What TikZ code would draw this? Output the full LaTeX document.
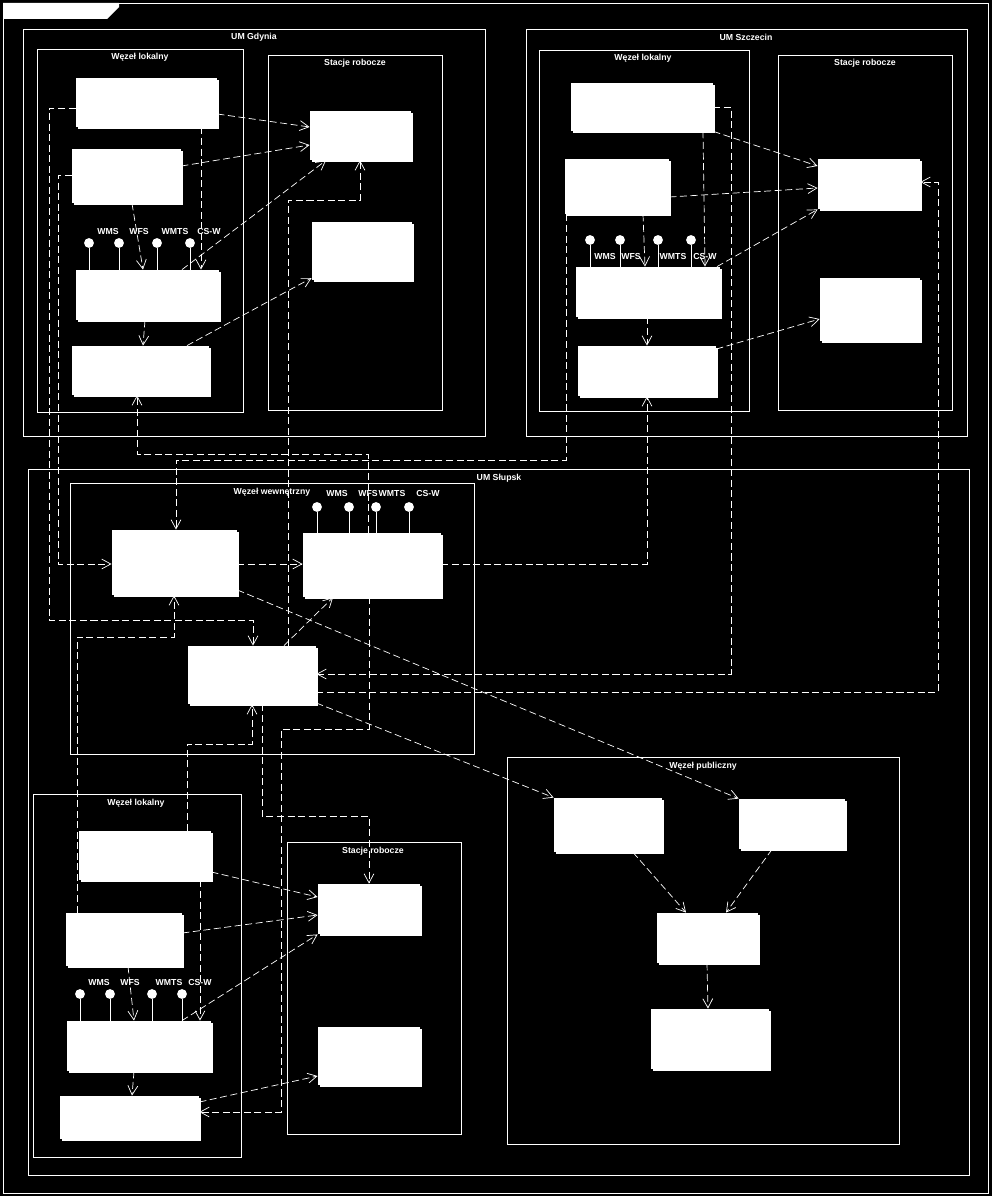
\documentclass[tikz,border=0pt]{standalone}
\usepackage{fontspec}
\setsansfont{Liberation Sans}
\usetikzlibrary{arrows.meta,fit,shadows}
\definecolor{paper}{HTML}{000000}
\definecolor{ink}{HTML}{FFFFFF}

\begin{document}
\begin{tikzpicture}[x=0.025cm,y=-0.025cm,>={Straight Barb[length=6.5pt,width=7pt]},line width=.6pt,every node/.style={font=\sffamily\bfseries\fontsize{6.2}{7}\selectfont,text=ink,inner sep=0pt},frame/.style={draw=ink,line width=.6pt},box/.style={fill=ink,draw=none,drop shadow={fill=ink,opacity=1,shadow xshift=1.5pt,shadow yshift=-1.5pt}},iface/.style={circle,fill=ink,minimum size=7pt},dep/.style={->,ink,line width=.5pt,dash pattern=on 5pt off 2.5pt}]
\path[use as bounding box,fill=paper] (0,0) rectangle (992,1196);

\draw[frame] (3,3) rectangle (988,1193);
\fill[ink] (3,3) -- (119,3) -- (119,7) -- (107,19) -- (3,19) -- cycle;

% UM Gdynia
\draw[frame] (23,29) rectangle (485,436);
\node (gdy) at (254,37) {UM Gdynia};
\draw[frame] (37,49) rectangle (243,412);
\node (gdyLok) at (140,57) {Węzeł lokalny};
\draw[frame] (268,55) rectangle (442,410);
\node (gdyStac) at (355,63) {Stacje robocze};
\node[box,fit={(76,78)(217,127)}] (A1) {};
\node[box,fit={(72,149)(181,203)}] (A2) {};
\node[box,fit={(76,270)(219,320)}] (A3) {};
\node[box,fit={(72,346)(209,395)}] (A4) {};
\node[box,fit={(310,111)(411,160)}] (W1) {};
\node[box,fit={(312,222)(412,280)}] (W2) {};
\foreach \n/\x/\t/\tx in {1/89/WMS/108,2/119/WFS/139,3/157/WMTS/175,4/190/CS-W/209}{
  \node[iface] (gi\n) at (\x,243) {};
  \node (gt\n) at (\tx,231) {\t};
  \draw[ink] (gi\n) -- (gi\n |- A3.north);
}

% UM Szczecin
\draw[frame] (526,29) rectangle (967,436);
\node (szc) at (746,37) {UM Szczecin};
\draw[frame] (539,50) rectangle (749,411);
\node (szcLok) at (643,58) {Węzeł lokalny};
\draw[frame] (778,55) rectangle (952,410);
\node (szcStac) at (865,63) {Stacje robocze};
\node[box,fit={(571,83)(713,131)}] (C1) {};
\node[box,fit={(565,159)(669,214)}] (C2) {};
\node[box,fit={(576,267)(720,317)}] (C3) {};
\node[box,fit={(578,346)(716,396)}] (C4) {};
\node[box,fit={(818,159)(920,209)}] (X1) {};
\node[box,fit={(820,278)(920,341)}] (X2) {};
\foreach \n/\x/\t/\tx in {1/590/WMS/605,2/620/WFS/631,3/658/WMTS/673,4/691/CS-W/705}{
  \node[iface] (si\n) at (\x,240) {};
  \node (st\n) at (\tx,256) {\t};
  \draw[ink] (si\n) -- (si\n |- C3.north);
}

% UM Slupsk
\draw[frame] (28,469) rectangle (969,1175);
\node (slp) at (499,478) {UM Słupsk};
\draw[frame] (70,483) rectangle (474,754);
\node (slpWew) at (272,492) {Węzeł wewnętrzny};
\draw[frame] (507,757) rectangle (899,1144);
\node (slpPub) at (703,766) {Węzeł publiczny};
\draw[frame] (33,794) rectangle (241,1157);
\node (slpLok) at (136,803) {Węzeł lokalny};
\draw[frame] (287,842) rectangle (461,1134);
\node (slpStac) at (373,851) {Stacje robocze};
\node[box,fit={(112,530)(237,595)}] (M1) {};
\node[box,fit={(303,533)(441,597)}] (M2) {};
\node[box,fit={(188,646)(316,704)}] (M3) {};
\node[box,fit={(554,798)(662,852)}] (P1) {};
\node[box,fit={(739,799)(845,849)}] (P2) {};
\node[box,fit={(657,913)(758,963)}] (P3) {};
\node[box,fit={(651,1009)(769,1069)}] (P4) {};
\node[box,fit={(79,831)(211,880)}] (B1) {};
\node[box,fit={(66,913)(182,966)}] (B2) {};
\node[box,fit={(67,1021)(211,1071)}] (B3) {};
\node[box,fit={(60,1096)(199,1139)}] (B4) {};
\node[box,fit={(318,884)(420,934)}] (S1) {};
\node[box,fit={(318,1027)(420,1085)}] (S2) {};
\foreach \n/\x/\t/\tx in {1/317/WMS/337,2/349/WFS/368,3/376/WMTS/392,4/409/CS-W/428}{
  \node[iface] (wi\n) at (\x,507) {};
  \node (wt\n) at (\tx,493) {\t};
  \draw[ink] (wi\n) -- (wi\n |- M2.north);
}
\foreach \n/\x/\t/\tx in {1/80/WMS/99,2/110/WFS/130,3/152/WMTS/169,4/182/CS-W/200}{
  \node[iface] (li\n) at (\x,994) {};
  \node (lt\n) at (\tx,982) {\t};
  \draw[ink] (li\n) -- (li\n |- B3.north);
}

% Gdynia
\draw[dep] (A1.east|-0,114) -- (W1.west|-0,127);
\draw[dep] (A2.east|-0,166) -- (W1.west|-0,145);
\draw[dep] (A3.north-|182,0) -- (W1.south-|326,0);
\draw[dep] (A4.north-|187,0) -- (W2.west|-0,278);
\draw[dep] (A2.south-|132,0) -- (A3.north-|143,0);
\draw[dep] (A1.south-|201,0) -- (A3.north-|201,0);
\draw[dep] (A3.south-|145,0) -- (A4.north-|143,0);

% Szczecin
\draw[dep] (C1.south east) -- (X1.west|-0,166);
\draw[dep] (C2.east|-0,197) -- (X1.west|-0,188);
\draw[dep] (C3.north-|717,0) -- (X1.south west);
\draw[dep] (C4.east|-0,349) -- (X2.west|-0,319);
\draw[dep] (C2.south-|643,0) -- (C3.north-|645,0);
\draw[dep] (C1.south-|703,0) -- (C3.north-|705,0);
\draw[dep] (C3.south-|647,0) -- (C4.north-|647,0);

% miedzy urzedami
\draw[dep] (A1.west|-0,108) -| (49,620) -| (M3.north-|253,0);
\draw[dep] (A2.west|-0,175) -| (58,564) -- (M1.west|-0,564);
\draw[dep] (M2.north-|368,0) |- (137,454) -- (A4.south-|137,0);
\draw[dep] (M3.north-|288,0) |- (360,200) -- (W1.south-|360,0);
\draw[dep] (C1.east|-0,107) -| (731,674) -- (M3.east|-0,674);
\draw[dep] (M3.east|-0,692) -| (938,182) -- (X1.east|-0,182);
\draw[dep] (C2.south-|566,0) |- (176,460) -- (M1.north-|176,0);
\draw[dep] (M2.east|-0,564) -| (C4.south-|647,0);

% Slupsk
\draw[dep] (M1.east|-0,564) -- (M2.west|-0,564);
\draw[dep] (M1.east|-0,590) -- (P2.north west);
\draw[dep] (M3.east|-0,703) -- (P1.north west);
\draw[dep] (B2.north-|77,0) |- (174,637) -- (M1.south-|174,0);
\draw[dep] (B1.north-|187,0) |- (252,744) -- (M3.south-|252,0);
\draw[dep] (M3.south-|262,0) |- (369,816) -- (S1.north-|369,0);
\draw[dep] (M2.south-|369,0) |- (281,729) |- (B4.east|-0,1112);
\draw[dep] (M3.north-|284,0) -- (M2.south-|333,0);
\draw[dep] (P1.south-|633,0) -- (P3.north-|686,0);
\draw[dep] (P2.south-|772,0) -- (P3.north-|726,0);
\draw[dep] (P3.south-|707,0) -- (P4.north-|708,0);
\draw[dep] (B1.east|-0,872) -- (S1.west|-0,897);
\draw[dep] (B2.east|-0,933) -- (S1.west|-0,915);
\draw[dep] (B3.north-|182,0) -- (S1.south west);
\draw[dep] (B4.east|-0,1102) -- (S2.west|-0,1076);
\draw[dep] (B2.south-|128,0) -- (B3.north-|134,0);
\draw[dep] (B1.south-|200,0) -- (B3.north-|200,0);
\draw[dep] (B3.south-|134,0) -- (B4.north-|132,0);

\end{tikzpicture}
\end{document}
